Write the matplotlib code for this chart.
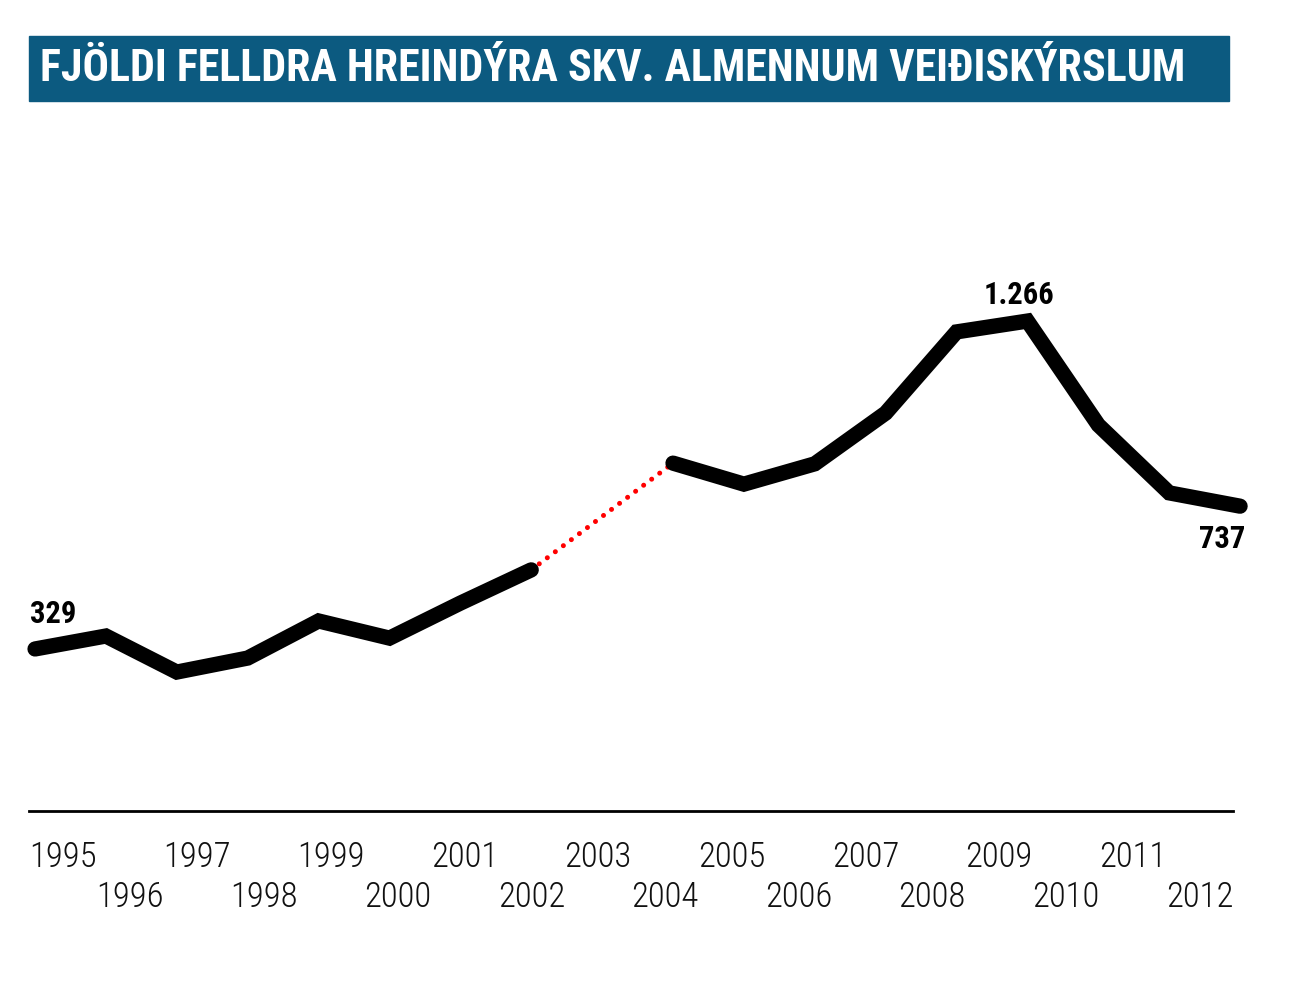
import matplotlib
matplotlib.use("Agg")
import matplotlib.pyplot as plt
from matplotlib.patches import Rectangle
import numpy as np

plt.rcParams['font.family'] = ['Roboto Condensed', 'Liberation Sans Narrow',
                               'Roboto', 'DejaVu Sans']

# data (2003 missing - gap bridged by red dots)
years = [1995, 1996, 1997, 1998, 1999, 2000, 2001, 2002,
         2004, 2005, 2006, 2007, 2008, 2009, 2010, 2011, 2012]
values = [329, 366, 263, 303, 409, 360, 460, 555,
          860, 800, 858, 1003, 1235, 1266, 969, 775, 737]
tick_years = list(range(1995, 2013))
title = "FJÖLDI FELLDRA HREINDÝRA SKV. ALMENNUM VEIÐISKÝRSLUM"

W, H = 1291, 991
fig = plt.figure(figsize=(W / 100, H / 100), dpi=100)

# title bar
fig.patches.append(Rectangle((29 / W, 1 - 101 / H), 1200 / W, 65 / H,
                             transform=fig.transFigure, color='#0c5a80', zorder=0))
t = fig.text(40 / W, 1 - 69 / H, title, color='white', fontsize=30,
             fontweight='bold', va='center', ha='left')
# fit title to the width it has in the original
renderer = fig.canvas.get_renderer()
w = t.get_window_extent(renderer).width
t.set_fontsize(30 * 1143 / w)

# axes: bottom spine is the baseline
ax = fig.add_axes([29 / W, 1 - 811 / H, 1204 / W, 561 / H])
ax.set_xlim(1994.915, 2011.90)
ax.set_ylim(-134, 1469)
for s in ['top', 'left', 'right']:
    ax.spines[s].set_visible(False)
ax.spines['bottom'].set_linewidth(2)
ax.set_xticks([])
ax.set_yticks([])

yrs = np.array(years)
vals = np.array(values)
first = yrs <= 2002
second = yrs >= 2004

# dotted bridge over the missing year
ax.plot([yrs[first][-1], yrs[second][0]], [vals[first][-1], vals[second][0]],
        color='#ff0000', lw=3.6, linestyle=(0, (0.01, 2.0)),
        dash_capstyle='round', clip_on=False, zorder=2)
for m in (first, second):
    ax.plot(yrs[m], vals[m], color='black', lw=11, solid_capstyle='round',
            solid_joinstyle='miter', clip_on=False, zorder=3)

# value labels
lab = dict(fontsize=22, fontweight='bold', textcoords='offset pixels',
           annotation_clip=False)
ax.annotate(f"{values[0]}", (years[0], values[0]), xytext=(-5, 35),
            ha='left', va='center', **lab)
i_max = int(np.argmax(vals))
ax.annotate(f"{values[i_max] / 1000:.3f}", (years[i_max], values[i_max]),
            xytext=(-8, 26), ha='center', va='center', **lab)
ax.annotate(f"{values[-1]}", (years[-1], values[-1]), xytext=(5, -33),
            ha='right', va='center', **lab)

# staggered year labels, evenly spaced slots under the baseline
slot = (1233 - 30) / len(tick_years)
for i, y in enumerate(tick_years):
    cx = (30 + slot * (i + 0.5)) / W
    cy = 1 - (857 if i % 2 == 0 else 897) / H
    fig.text(cx, cy, str(y), fontsize=25, fontweight='light', ha='center',
             va='center', color='#111111')

fig.savefig("out.png", dpi=100, facecolor='white')
